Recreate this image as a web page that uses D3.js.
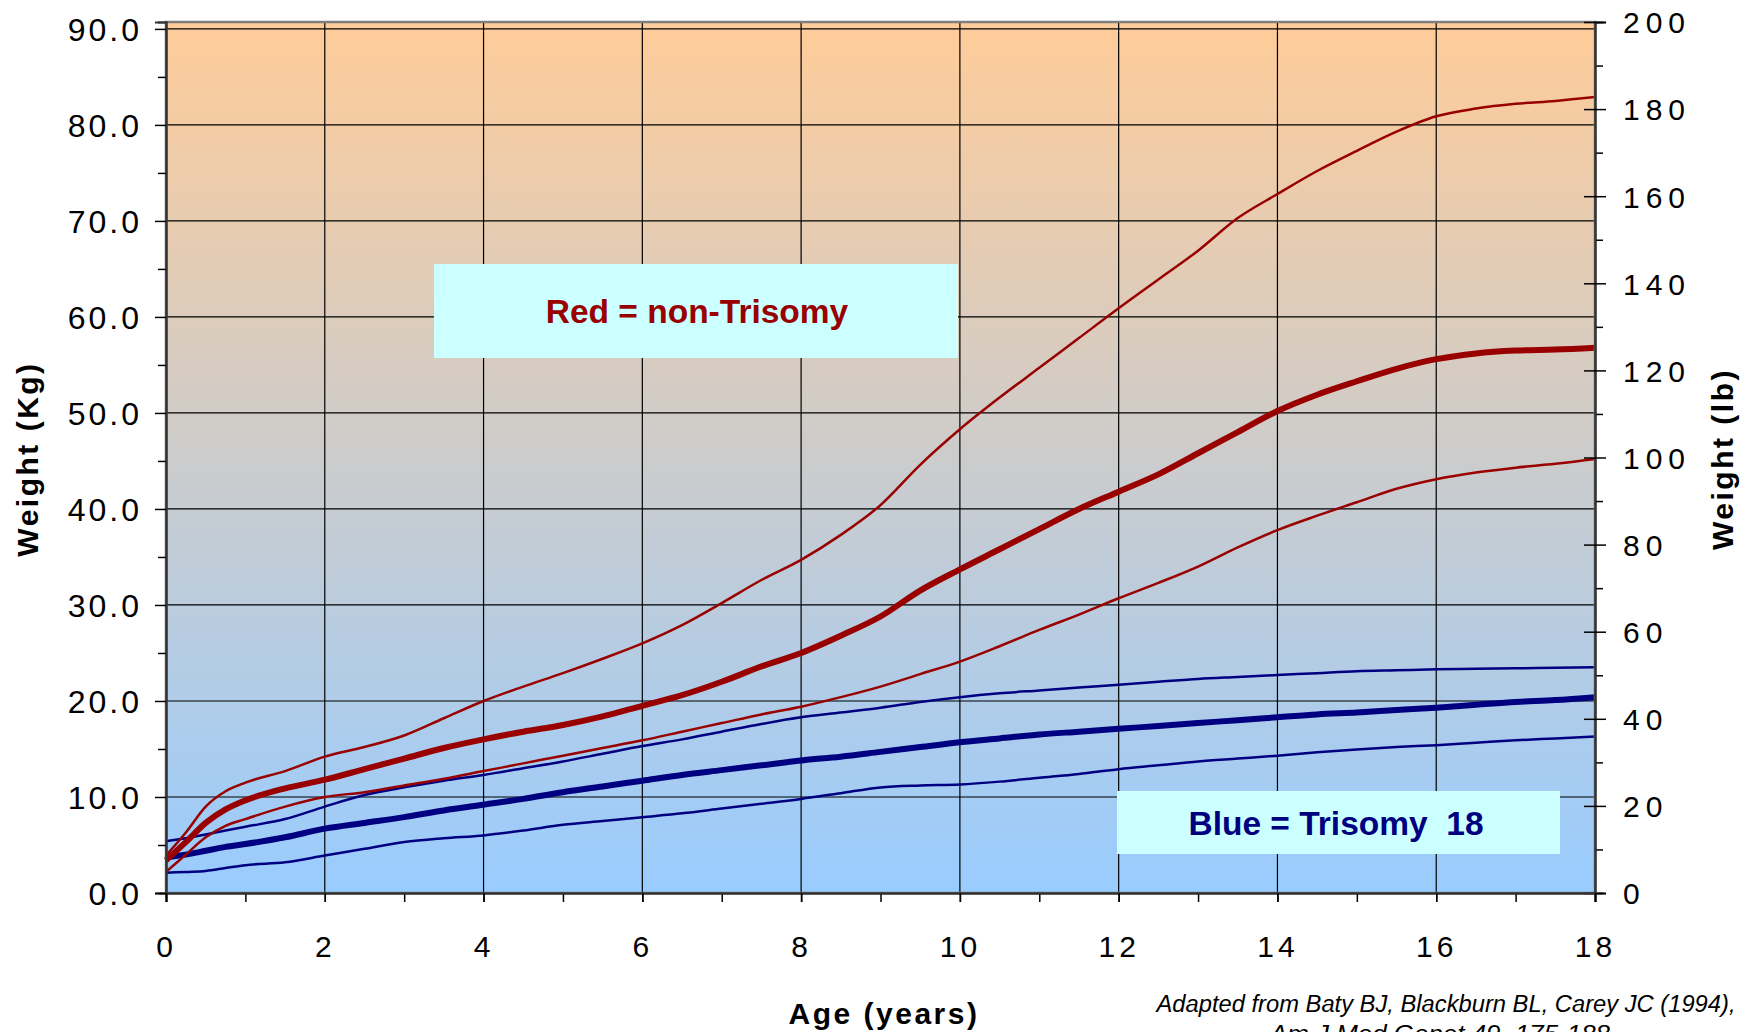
<!DOCTYPE html>
<html>
<head>
<meta charset="utf-8">
<script src="https://cdn.jsdelivr.net/npm/d3@7"></script>
<style>
  body { margin: 0; background: #fff; }
  svg { display: block; font-family: "Liberation Sans", Arial, sans-serif; }
</style>
</head>
<body>
<div id="vis"></div>
<script>
// ages in years
const ages = [0, 0.25, 0.5, 0.75, 1, 1.5, 2, 2.5, 3, 3.5, 4, 4.5, 5, 5.5, 6, 6.5, 7, 7.5, 8, 8.5, 9, 9.5,
  10, 10.5, 11, 11.5, 12, 12.5, 13, 13.5, 14, 14.5, 15, 15.5, 16, 16.5, 17, 17.5, 18];

// non-trisomy (red) weight, kg
const red95 = [3.9, 6.3, 9.0, 10.6, 11.5, 12.7, 14.2, 15.2, 16.4, 18.2, 20.0, 21.5, 22.9, 24.4, 26.0, 27.9, 30.2, 32.6,
  34.7, 37.3, 40.4, 44.6, 48.3, 51.6, 54.7, 57.8, 60.9, 63.9, 66.9, 70.3, 72.8, 75.2, 77.3, 79.3, 80.9, 81.7, 82.2, 82.5, 82.9];
const red50 = [3.4, 5.3, 7.3, 8.7, 9.65, 10.9, 11.8, 12.9, 14.0, 15.1, 16.0, 16.8, 17.5, 18.4, 19.5, 20.6, 22.0, 23.6,
  25.0, 26.8, 28.8, 31.5, 33.7, 35.8, 37.9, 40.0, 41.8, 43.6, 45.8, 48.0, 50.2, 51.9, 53.3, 54.6, 55.6, 56.2, 56.5, 56.6, 56.8];
const red05 = [2.2, 4.0, 5.8, 7.0, 7.7, 9.0, 10.0, 10.5, 11.2, 11.9, 12.7, 13.5, 14.3, 15.1, 15.9, 16.8, 17.7, 18.6,
  19.4, 20.4, 21.5, 22.8, 24.1, 25.7, 27.4, 29.0, 30.7, 32.3, 34.0, 36.0, 37.8, 39.3, 40.7, 42.1, 43.1, 43.8, 44.3, 44.7, 45.2];

// trisomy 18 (blue) weight, kg
const blue95 = [5.4, 5.7, 6.1, 6.5, 6.9, 7.7, 9.0, 10.2, 11.0, 11.7, 12.3, 13.0, 13.7, 14.5, 15.3, 16.0, 16.8, 17.6,
  18.3, 18.8, 19.3, 19.9, 20.4, 20.8, 21.1, 21.4, 21.7, 22.0, 22.3, 22.5, 22.7, 22.9, 23.1, 23.2, 23.3, 23.35, 23.4, 23.45, 23.5];
const blue50 = [3.7, 4.0, 4.4, 4.8, 5.1, 5.8, 6.7, 7.3, 7.9, 8.6, 9.2, 9.8, 10.5, 11.1, 11.7, 12.3, 12.8, 13.3,
  13.8, 14.2, 14.7, 15.2, 15.7, 16.1, 16.5, 16.8, 17.1, 17.4, 17.7, 18.0, 18.3, 18.6, 18.8, 19.05, 19.3, 19.6, 19.9, 20.1, 20.4];
const blue05 = [2.1, 2.2, 2.3, 2.6, 2.9, 3.2, 3.9, 4.6, 5.3, 5.7, 6.0, 6.5, 7.1, 7.5, 7.9, 8.3, 8.8, 9.3,
  9.8, 10.4, 11.0, 11.2, 11.3, 11.6, 12.0, 12.4, 12.9, 13.3, 13.7, 14.0, 14.3, 14.65, 14.95, 15.2, 15.4, 15.65, 15.9, 16.1, 16.3];

const kgTicks = [0, 10, 20, 30, 40, 50, 60, 70, 80, 90];
const lbTicks = [0, 20, 40, 60, 80, 100, 120, 140, 160, 180, 200];
const ageTicks = [0, 2, 4, 6, 8, 10, 12, 14, 16, 18];

(function () {
    const W = 1753, H = 1032;
    const plot = { left: 166, right: 1595, top: 22, bottom: 893 };
    const LB = 0.45359237;

    const svg = d3.select("#vis").append("svg")
        .attr("width", W)
        .attr("height", H);

    const x = d3.scaleLinear().domain([0, 18]).range([plot.left, plot.right]);
    const yLb = d3.scaleLinear().domain([0, 200]).range([plot.bottom, plot.top]);
    const y = d3.scaleLinear().domain([0, 200 * LB]).range([plot.bottom, plot.top]);

    const defs = svg.append("defs");
    const grad = defs.append("linearGradient")
        .attr("id", "bg")
        .attr("x1", 0).attr("y1", 0).attr("x2", 0).attr("y2", 1);
    grad.append("stop").attr("offset", "0%").attr("stop-color", "#ffcc99");
    grad.append("stop").attr("offset", "100%").attr("stop-color", "#99ccff");

    svg.append("rect")
        .attr("x", plot.left).attr("y", plot.top)
        .attr("width", plot.right - plot.left)
        .attr("height", plot.bottom - plot.top)
        .attr("fill", "url(#bg)");

    // grid
    svg.append("g").selectAll("line")
        .data(kgTicks.slice(1))
        .join("line")
        .attr("x1", plot.left).attr("x2", plot.right)
        .attr("y1", d => y(d)).attr("y2", d => y(d))
        .attr("stroke", "#000").attr("stroke-width", 1.2);
    svg.append("g").selectAll("line")
        .data(ageTicks.slice(1, -1))
        .join("line")
        .attr("x1", d => x(d)).attr("x2", d => x(d))
        .attr("y1", plot.top).attr("y2", plot.bottom)
        .attr("stroke", "#000").attr("stroke-width", 1.2);

    // legend boxes
    svg.append("rect")
        .attr("x", 434).attr("y", 264).attr("width", 524).attr("height", 94)
        .attr("fill", "#ccffff");
    svg.append("text")
        .attr("x", 697).attr("y", 323)
        .attr("text-anchor", "middle")
        .style("font-size", "33.5px").style("font-weight", "bold")
        .attr("fill", "#990000")
        .text("Red = non-Trisomy");

    svg.append("rect")
        .attr("x", 1117).attr("y", 791).attr("width", 443).attr("height", 63)
        .attr("fill", "#ccffff");
    svg.append("text")
        .attr("x", 1336).attr("y", 835)
        .attr("text-anchor", "middle")
        .style("font-size", "33.5px").style("font-weight", "bold")
        .style("white-space", "pre")
        .attr("fill", "#000080")
        .text("Blue = Trisomy  18");

    // curves
    const line = d3.line()
        .x((d, i) => x(ages[i]))
        .y(d => y(d))
        .curve(d3.curveMonotoneX);

    const series = [
        { values: blue05, color: "#000080", w: 2.5 },
        { values: blue95, color: "#000080", w: 2.5 },
        { values: blue50, color: "#000080", w: 6 },
        { values: red05, color: "#990000", w: 2.5 },
        { values: red95, color: "#990000", w: 2.5 },
        { values: red50, color: "#990000", w: 6 }
    ];
    for (const s of series) {
        svg.append("path")
            .datum(s.values)
            .attr("fill", "none")
            .attr("stroke", s.color)
            .attr("stroke-width", s.w)
            .attr("stroke-linejoin", "round")
            .attr("d", line);
    }

    // frame
    svg.append("rect")
        .attr("x", plot.left).attr("y", plot.top)
        .attr("width", plot.right - plot.left)
        .attr("height", plot.bottom - plot.top)
        .attr("fill", "none")
        .attr("stroke", "#7f7f7f").attr("stroke-width", 2.5);

    // left axis (kg)
    const gL = svg.append("g").attr("transform", `translate(${plot.left},0)`);
    gL.call(d3.axisLeft(y).tickValues(d3.range(5, 90, 10)).tickSize(8).tickFormat(""));
    const gL2 = svg.append("g").attr("transform", `translate(${plot.left},0)`);
    gL2.call(d3.axisLeft(y).tickValues(kgTicks).tickSize(11).tickPadding(13).tickFormat(d3.format(".1f")));
    for (const g of [gL, gL2]) {
        g.select(".domain").attr("stroke", "#333").attr("stroke-width", 2);
        g.selectAll(".tick line").attr("stroke", "#000").attr("stroke-width", 1.5);
    }
    gL2.selectAll(".tick text")
        .attr("dy", "0.36em")
        .style("font-size", "32px")
        .style("letter-spacing", "3px")
        .attr("fill", "#000");

    // right axis (lb)
    const gR = svg.append("g").attr("transform", `translate(${plot.right},0)`);
    gR.call(d3.axisRight(yLb).tickValues(d3.range(10, 200, 20)).tickSize(8).tickFormat(""));
    const gR2 = svg.append("g").attr("transform", `translate(${plot.right},0)`);
    gR2.call(d3.axisRight(yLb).tickValues(lbTicks).tickSize(11).tickPadding(17));
    gR2.selectAll(".tick line").attr("x1", -11);
    for (const g of [gR, gR2]) {
        g.select(".domain").attr("stroke", "#333").attr("stroke-width", 2);
        g.selectAll(".tick line").attr("stroke", "#000").attr("stroke-width", 1.5);
    }
    gR2.selectAll(".tick text")
        .attr("dy", "0.36em")
        .style("font-size", "30px")
        .style("letter-spacing", "6px")
        .attr("fill", "#000");

    // bottom axis (age)
    const gB = svg.append("g").attr("transform", `translate(0,${plot.bottom})`);
    gB.call(d3.axisBottom(x).tickValues(d3.range(0, 19, 1)).tickSize(9).tickFormat(""));
    const gB2 = svg.append("g").attr("transform", `translate(0,${plot.bottom})`);
    gB2.call(d3.axisBottom(x).tickValues(ageTicks).tickSize(9).tickPadding(34));
    for (const g of [gB, gB2]) {
        g.select(".domain").attr("stroke", "#333").attr("stroke-width", 2);
        g.selectAll(".tick line").attr("stroke", "#000").attr("stroke-width", 1.5);
    }
    gB2.selectAll(".tick text")
        .attr("dy", "0.71em")
        .style("font-size", "30px")
        .style("letter-spacing", "4px")
        .attr("fill", "#000");

    // axis titles
    svg.append("text")
        .attr("transform", "translate(38,459) rotate(-90)")
        .attr("text-anchor", "middle")
        .style("font-size", "30px").style("font-weight", "bold")
        .style("letter-spacing", "2.5px")
        .text("Weight (Kg)");
    svg.append("text")
        .attr("transform", "translate(1733,459) rotate(-90)")
        .attr("text-anchor", "middle")
        .style("font-size", "30px").style("font-weight", "bold")
        .style("letter-spacing", "2.5px")
        .text("Weight (lb)");
    svg.append("text")
        .attr("x", 884).attr("y", 1024)
        .attr("text-anchor", "middle")
        .style("font-size", "30px").style("font-weight", "bold")
        .style("letter-spacing", "2.5px")
        .text("Age (years)");

    // source note (second line is cut by the bottom edge, as in the original)
    const note = svg.append("text")
        .attr("text-anchor", "middle")
        .style("font-size", "23px").style("font-style", "italic");
    note.append("tspan").attr("x", 1446).attr("y", 1012)
        .attr("textLength", 579).attr("lengthAdjust", "spacingAndGlyphs")
        .text("Adapted from Baty BJ, Blackburn BL, Carey JC (1994),");
    note.append("tspan").attr("x", 1440).attr("y", 1042)
        .attr("textLength", 340).attr("lengthAdjust", "spacingAndGlyphs")
        .text("Am J Med Genet 49, 175-188");
})();
</script>
</body>
</html>
